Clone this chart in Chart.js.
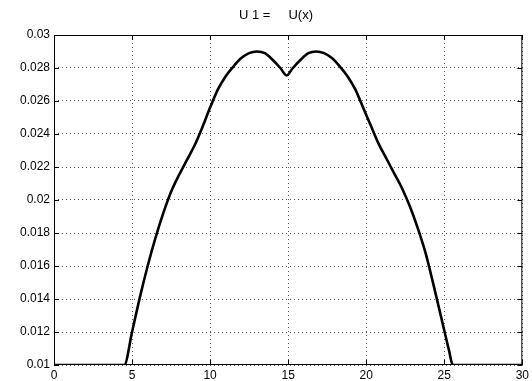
<!DOCTYPE html>
<html>
<head>
<meta charset="utf-8">
<script src="https://cdn.jsdelivr.net/npm/chart.js@4.4.0/dist/chart.umd.min.js"></script>
<style>
  html, body { margin: 0; padding: 0; background: #fff; }
  #wrap { width: 532px; height: 381px; }
</style>
</head>
<body>
<div id="wrap"><canvas id="chart"></canvas></div>
<script>
const titleText = 'U 1 =     U(x)';
const xTicks = [0, 5, 10, 15, 20, 25, 30];
const yTicks = [0.01, 0.012, 0.014, 0.016, 0.018, 0.02, 0.022, 0.024, 0.026, 0.028, 0.03];

const xValues = [0, 4.5, 5.0, 5.5, 6.0, 6.5, 7.0, 7.5, 8.0, 8.5, 9.0, 9.5, 10.0, 10.5, 11.0, 11.5, 12.0, 12.5, 13.0, 13.5, 14.0, 14.5, 14.9,
                 15.3, 15.8, 16.3, 16.8, 17.3, 17.8, 18.3, 18.8, 19.3, 19.8, 20.3, 20.8, 21.3, 21.8, 22.3, 22.8, 23.3, 23.8, 24.3, 24.8, 25.3, 25.55, 30];
const uValues = [0.01, 0.01, 0.0120, 0.0141, 0.0160, 0.0177, 0.0192, 0.0205, 0.0215, 0.0224, 0.0233, 0.0244, 0.0256, 0.0267, 0.0275, 0.0281, 0.0286, 0.0289, 0.0290, 0.0289, 0.0285, 0.0280, 0.02755,
                 0.0280, 0.0285, 0.0289, 0.0290, 0.0289, 0.0286, 0.0281, 0.0275, 0.0267, 0.0256, 0.0245, 0.0234, 0.0225, 0.0216, 0.0207, 0.0196, 0.0183, 0.0168, 0.0149, 0.0129, 0.0109, 0.0100, 0.01];

const font = 'Liberation Sans, Arial, sans-serif';

// box, inward ticks and title, matlab style
const frame = {
  id: 'frame',
  afterDraw(chart) {
    const { ctx, chartArea: a, scales } = chart;
    ctx.save();
    ctx.strokeStyle = '#000';
    ctx.lineWidth = 1;
    ctx.strokeRect(a.left + 0.5, a.top + 0.5, a.right - a.left - 1, a.bottom - a.top - 1);
    ctx.beginPath();
    xTicks.forEach(t => {
      const px = Math.round(scales.x.getPixelForValue(t)) + 0.5;
      ctx.moveTo(px, a.bottom); ctx.lineTo(px, a.bottom - 5);
      ctx.moveTo(px, a.top); ctx.lineTo(px, a.top + 5);
    });
    yTicks.forEach(t => {
      const py = Math.round(scales.y.getPixelForValue(t)) + 0.5;
      ctx.moveTo(a.left, py); ctx.lineTo(a.left + 5, py);
      ctx.moveTo(a.right, py); ctx.lineTo(a.right - 5, py);
    });
    ctx.stroke();
    ctx.fillStyle = '#000';
    ctx.font = '13px ' + font;
    ctx.textAlign = 'center';
    ctx.textBaseline = 'middle';
    ctx.fillText(titleText, 276, 15);
    ctx.restore();
  }
};

new Chart(document.getElementById('chart'), {
  type: 'scatter',
  data: {
    datasets: [{
      data: xValues.map((x, i) => ({ x, y: uValues[i] })),
      showLine: true,
      borderColor: '#000',
      borderWidth: 2.6,
      pointRadius: 0,
      cubicInterpolationMode: 'monotone'
    }]
  },
  options: {
    responsive: true, maintainAspectRatio: false, animation: false,
    layout: { padding: { top: 35, right: 6, left: 0, bottom: 0 } },
    plugins: { legend: { display: false }, tooltip: { enabled: false }, title: { display: false } },
    scales: {
      x: {
        type: 'linear', min: 0, max: 30,
        afterBuildTicks: s => { s.ticks = xTicks.map(v => ({ value: v })); },
        afterFit: s => { s.height = 16; },
        ticks: { color: '#000', font: { family: font, size: 12 }, padding: 3, maxRotation: 0 },
        grid: { color: '#555', drawTicks: false },
        border: { display: false, dash: [1, 3] }
      },
      y: {
        min: 0.01, max: 0.03,
        afterBuildTicks: s => { s.ticks = yTicks.map(v => ({ value: v })); },
        afterFit: s => { s.width = 54; },
        ticks: { color: '#000', font: { family: font, size: 12 }, padding: 4,
                 callback: v => String(Number(v.toFixed(3))) },
        grid: { color: '#555', drawTicks: false },
        border: { display: false, dash: [1, 3] }
      }
    }
  },
  plugins: [frame]
});
</script>
</body>
</html>
